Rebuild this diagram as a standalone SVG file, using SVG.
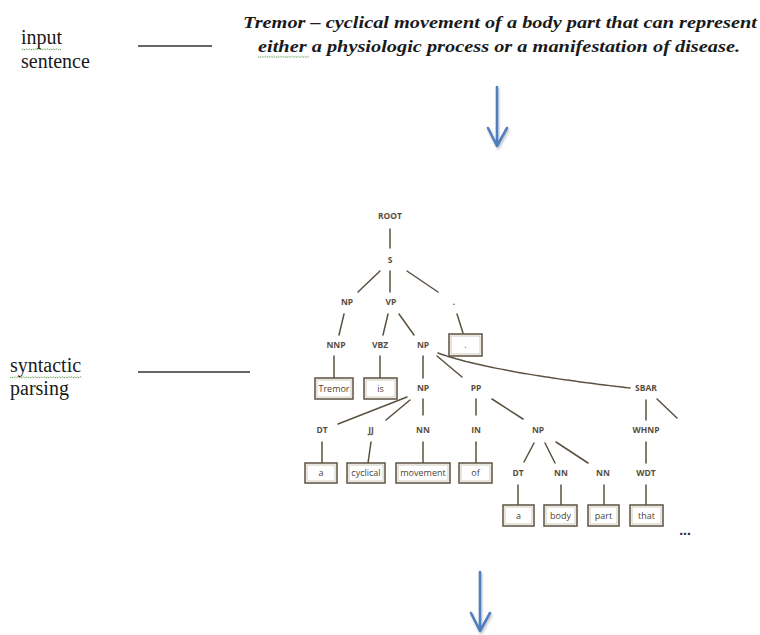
<svg xmlns="http://www.w3.org/2000/svg" width="760" height="635" viewBox="0 0 760 635">
  <style>
    .side { font-family: "Liberation Serif", "Times New Roman", serif; font-size: 20px; fill: #1a1a1a; }
    .sent { font-family: "Liberation Serif", "Times New Roman", serif; font-size: 17px; font-style: italic; font-weight: bold; fill: #1a1a1a; text-anchor: middle; }
    .lbl { font-family: "Open Sans", "DejaVu Sans", sans-serif; font-size: 8.5px; font-weight: bold; fill: #5a4e40; text-anchor: middle; }
    .word { font-family: "Open Sans", "DejaVu Sans", sans-serif; font-size: 9px; fill: #4e4336; text-anchor: middle; }
    .box { fill: #ffffff; stroke: #5c5040; stroke-width: 1.5; }
    .boxin { fill: none; stroke: #d2cbc0; stroke-width: 1; }
    .edge { stroke: #5c5040; stroke-width: 1.5; fill: none; stroke-linecap: round; }
    .rule { stroke: #333333; stroke-width: 1.6; }
    .ruleshadow { stroke: #bbbbbb; stroke-width: 3; filter: url(#soft); }
    .flow { stroke: #4f7fbf; stroke-width: 2.6; fill: none; stroke-linecap: round; stroke-linejoin: round; }
    .squiggle { stroke: #5aa04a; stroke-width: 1; fill: none; stroke-dasharray: 1.5 0.8; }
  </style>
  <defs>
    <filter id="soft" x="-20%" y="-200%" width="140%" height="500%">
      <feGaussianBlur stdDeviation="1.5"/>
    </filter>
    <filter id="shade" x="-50%" y="-20%" width="200%" height="140%">
      <feDropShadow dx="1" dy="2" stdDeviation="1.2" flood-color="#000000" flood-opacity="0.25"/>
    </filter>
  </defs>

  <rect width="760" height="635" fill="#ffffff"/>

  <!-- step labels on the left -->
  <g id="label-input">
    <text class="side" x="21" y="44">input</text>
    <text class="side" x="21" y="68">sentence</text>
    <path class="squiggle" d="M22,50 l1.5,-1.2 l1.5,1.2 l1.5,-1.2 l1.5,1.2 l1.5,-1.2 l1.5,1.2 l1.5,-1.2 l1.5,1.2 l1.5,-1.2 l1.5,1.2 l1.5,-1.2 l1.5,1.2 l1.5,-1.2 l1.5,1.2 l1.5,-1.2 l1.5,1.2 l1.5,-1.2 l1.5,1.2 l1.5,-1.2 l1.5,1.2 l1.5,-1.2 l1.5,1.2 l1.5,-1.2 l1.5,1.2 l1.5,-1.2 l1.5,1.2"/>
    <line class="ruleshadow" x1="140" y1="49" x2="212" y2="49"/>
    <line class="rule" x1="138" y1="46" x2="212" y2="46"/>
  </g>

  <g id="label-parsing">
    <text class="side" x="10" y="372">syntactic</text>
    <text class="side" x="10" y="395">parsing</text>
    <path class="squiggle" d="M10,378 l1.5,-1.2 l1.5,1.2 l1.5,-1.2 l1.5,1.2 l1.5,-1.2 l1.5,1.2 l1.5,-1.2 l1.5,1.2 l1.5,-1.2 l1.5,1.2 l1.5,-1.2 l1.5,1.2 l1.5,-1.2 l1.5,1.2 l1.5,-1.2 l1.5,1.2 l1.5,-1.2 l1.5,1.2 l1.5,-1.2 l1.5,1.2 l1.5,-1.2 l1.5,1.2 l1.5,-1.2 l1.5,1.2 l1.5,-1.2 l1.5,1.2 l1.5,-1.2 l1.5,1.2 l1.5,-1.2 l1.5,1.2 l1.5,-1.2 l1.5,1.2 l1.5,-1.2 l1.5,1.2 l1.5,-1.2 l1.5,1.2 l1.5,-1.2 l1.5,1.2 l1.5,-1.2 l1.5,1.2 l1.5,-1.2 l1.5,1.2 l1.5,-1.2 l1.5,1.2 l1.5,-1.2 l1.5,1.2 l1.5,-1.2 l1.5,1.2"/>
    <line class="ruleshadow" x1="140" y1="375" x2="250" y2="375"/>
    <line class="rule" x1="138" y1="372" x2="250" y2="372"/>
  </g>

  <!-- input sentence -->
  <g id="sentence">
    <text class="sent" x="500" y="28" textLength="514" lengthAdjust="spacingAndGlyphs">Tremor – cyclical movement of a body part that can represent</text>
    <text class="sent" x="499" y="52" textLength="482" lengthAdjust="spacingAndGlyphs">either a physiologic process or a manifestation of disease.</text>
    <path class="squiggle" d="M258,57.5 l1.5,-1.2 l1.5,1.2 l1.5,-1.2 l1.5,1.2 l1.5,-1.2 l1.5,1.2 l1.5,-1.2 l1.5,1.2 l1.5,-1.2 l1.5,1.2 l1.5,-1.2 l1.5,1.2 l1.5,-1.2 l1.5,1.2 l1.5,-1.2 l1.5,1.2 l1.5,-1.2 l1.5,1.2 l1.5,-1.2 l1.5,1.2 l1.5,-1.2 l1.5,1.2 l1.5,-1.2 l1.5,1.2 l1.5,-1.2 l1.5,1.2 l1.5,-1.2 l1.5,1.2 l1.5,-1.2 l1.5,1.2 l1.5,-1.2 l1.5,1.2 l1.5,-1.2 l1.5,1.2"/>
  </g>

  <!-- flow arrows -->
  <g id="flow-arrows" filter="url(#shade)">
    <path class="flow" d="M497,87 V146 M488,128 L497,146 L507,128"/>
    <path class="flow" d="M480,572 V631 M471,613 L480,631 L490,613"/>
  </g>

  <!-- parse tree edges -->
  <g id="connectors">
    <line class="edge" x1="390" y1="229" x2="390" y2="248"/>
    <line class="edge" x1="380" y1="271" x2="358" y2="292"/>
    <line class="edge" x1="390" y1="271" x2="390" y2="292"/>
    <line class="edge" x1="407" y1="271" x2="438" y2="292"/>
    <line class="edge" x1="344" y1="314" x2="339" y2="335"/>
    <line class="edge" x1="388" y1="314" x2="383" y2="335"/>
    <line class="edge" x1="399" y1="314" x2="414" y2="335"/>
    <line class="edge" x1="457" y1="314" x2="463" y2="333"/>
    <line class="edge" x1="334" y1="356" x2="334" y2="378"/>
    <line class="edge" x1="380" y1="356" x2="380" y2="378"/>
    <line class="edge" x1="423" y1="356" x2="423" y2="378"/>
    <line class="edge" x1="437" y1="356" x2="462" y2="377"/>
    <path class="edge" d="M438,353 Q490,372 630,388" stroke-dasharray="9 1.2"/>
    <line class="edge" x1="407" y1="397" x2="338" y2="424"/>
    <line class="edge" x1="410" y1="400" x2="386" y2="420"/>
    <line class="edge" x1="423" y1="399" x2="423" y2="415"/>
    <line class="edge" x1="476" y1="399" x2="476" y2="415"/>
    <line class="edge" x1="492" y1="399" x2="523" y2="419"/>
    <line class="edge" x1="646" y1="400" x2="646" y2="420"/>
    <line class="edge" x1="657" y1="399" x2="677" y2="418"/>
    <line class="edge" x1="322" y1="442" x2="322" y2="463"/>
    <line class="edge" x1="371" y1="442" x2="368" y2="463"/>
    <line class="edge" x1="423" y1="442" x2="423" y2="463"/>
    <line class="edge" x1="476" y1="442" x2="476" y2="463"/>
    <line class="edge" x1="534" y1="443" x2="524" y2="462"/>
    <line class="edge" x1="545" y1="443" x2="555" y2="463"/>
    <line class="edge" x1="556" y1="442" x2="588" y2="463"/>
    <line class="edge" x1="646" y1="442" x2="646" y2="463"/>
    <line class="edge" x1="518" y1="485" x2="518" y2="505"/>
    <line class="edge" x1="561" y1="485" x2="561" y2="505"/>
    <line class="edge" x1="604" y1="485" x2="604" y2="505"/>
    <line class="edge" x1="646" y1="485" x2="646" y2="505"/>
  </g>

  <!-- phrase and tag nodes -->
  <g id="n-root"><text class="lbl" x="390" y="219">ROOT</text></g>
  <g id="n-s"><text class="lbl" x="390" y="263">S</text></g>
  <g id="n-np1"><text class="lbl" x="347" y="305">NP</text></g>
  <g id="n-vp"><text class="lbl" x="391" y="305">VP</text></g>
  <g id="n-punct"><text class="lbl" x="454" y="305">.</text></g>
  <g id="n-nnp"><text class="lbl" x="336" y="348">NNP</text></g>
  <g id="n-vbz"><text class="lbl" x="380" y="348">VBZ</text></g>
  <g id="n-np2"><text class="lbl" x="423" y="348">NP</text></g>
  <g id="n-np3"><text class="lbl" x="423" y="391">NP</text></g>
  <g id="n-pp"><text class="lbl" x="476" y="391">PP</text></g>
  <g id="n-sbar"><text class="lbl" x="646" y="391">SBAR</text></g>
  <g id="n-dt1"><text class="lbl" x="322" y="433">DT</text></g>
  <g id="n-jj"><text class="lbl" x="371" y="433">JJ</text></g>
  <g id="n-nn1"><text class="lbl" x="423" y="433">NN</text></g>
  <g id="n-in"><text class="lbl" x="476" y="433">IN</text></g>
  <g id="n-np4"><text class="lbl" x="538" y="433">NP</text></g>
  <g id="n-whnp"><text class="lbl" x="646" y="433">WHNP</text></g>
  <g id="n-dt2"><text class="lbl" x="518" y="476">DT</text></g>
  <g id="n-nn2"><text class="lbl" x="561" y="476">NN</text></g>
  <g id="n-nn3"><text class="lbl" x="603" y="476">NN</text></g>
  <g id="n-wdt"><text class="lbl" x="646" y="476">WDT</text></g>

  <!-- word leaves -->
  <g id="w-period"><rect class="box" x="449" y="334" width="33" height="22"/><rect class="boxin" x="451" y="336" width="29" height="18"/><text class="word" x="465.5" y="348">.</text></g>
  <g id="w-tremor"><rect class="box" x="315" y="378" width="38" height="21"/><rect class="boxin" x="317" y="380" width="34" height="17"/><text class="word" x="334" y="391.5">Tremor</text></g>
  <g id="w-is"><rect class="box" x="364" y="378" width="33" height="21"/><rect class="boxin" x="366" y="380" width="29" height="17"/><text class="word" x="380.5" y="391.5">is</text></g>
  <g id="w-a1"><rect class="box" x="305" y="463" width="32" height="20"/><rect class="boxin" x="307" y="465" width="28" height="16"/><text class="word" x="321" y="476">a</text></g>
  <g id="w-cyclical"><rect class="box" x="347" y="463" width="38" height="20"/><rect class="boxin" x="349" y="465" width="34" height="16"/><text class="word" x="366" y="476">cyclical</text></g>
  <g id="w-movement"><rect class="box" x="396" y="463" width="54" height="20"/><rect class="boxin" x="398" y="465" width="50" height="16"/><text class="word" x="423" y="476">movement</text></g>
  <g id="w-of"><rect class="box" x="459" y="463" width="33" height="20"/><rect class="boxin" x="461" y="465" width="29" height="16"/><text class="word" x="475.5" y="476">of</text></g>
  <g id="w-a2"><rect class="box" x="503" y="505" width="31" height="21"/><rect class="boxin" x="505" y="507" width="27" height="17"/><text class="word" x="518.5" y="518.5">a</text></g>
  <g id="w-body"><rect class="box" x="544" y="505" width="33" height="21"/><rect class="boxin" x="546" y="507" width="29" height="17"/><text class="word" x="560.5" y="518.5">body</text></g>
  <g id="w-part"><rect class="box" x="588" y="505" width="31" height="21"/><rect class="boxin" x="590" y="507" width="27" height="17"/><text class="word" x="603.5" y="518.5">part</text></g>
  <g id="w-that"><rect class="box" x="630" y="505" width="33" height="21"/><rect class="boxin" x="632" y="507" width="29" height="17"/><text class="word" x="646.5" y="518.5">that</text></g>

  <g id="ellipsis"><text x="685" y="535" font-family="Liberation Sans, Arial, sans-serif" font-size="14" font-weight="bold" fill="#1f2a50" text-anchor="middle">...</text></g>
</svg>
